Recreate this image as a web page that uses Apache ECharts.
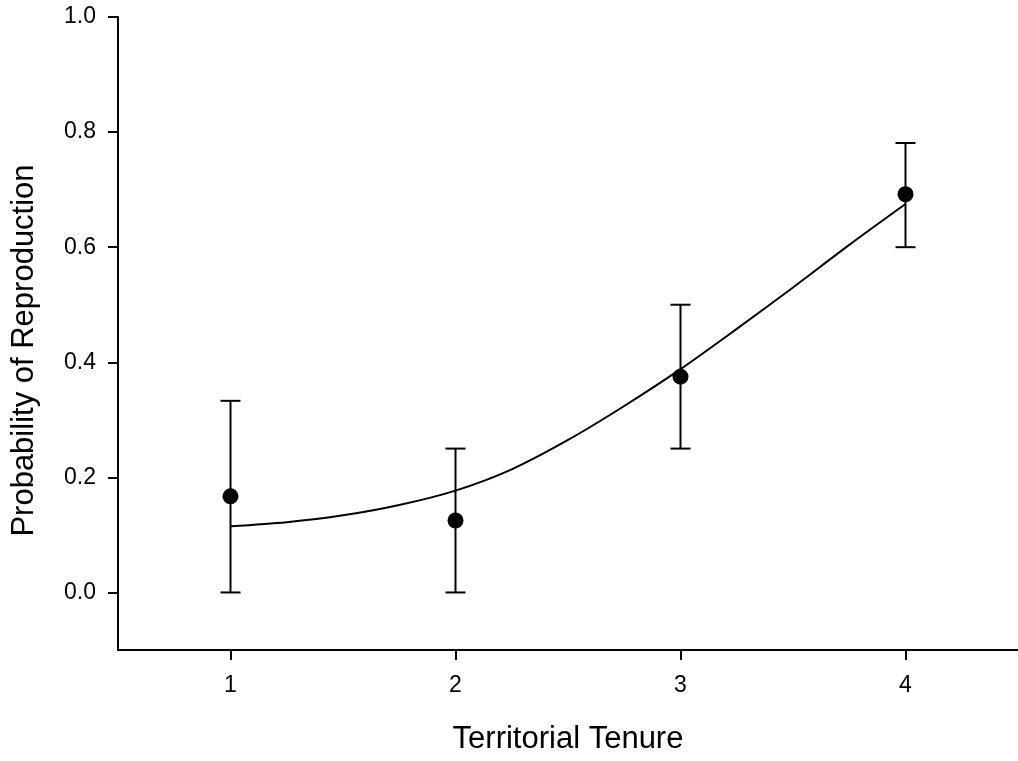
<!DOCTYPE html>
<html>
<head>
<meta charset="utf-8">
<title>Probability of Reproduction vs Territorial Tenure</title>
<script src="https://cdn.jsdelivr.net/npm/echarts@6/dist/echarts.min.js"></script>
<style>
  html, body { margin: 0; padding: 0; background: #fff; }
  #chart { width: 1018px; height: 761px; }
</style>
</head>
<body>
<div id="chart"></div>
<script>
// Observed means with error bar limits, one per tenure class
const tenure = [1, 2, 3, 4];
const meanProb = [0.167, 0.125, 0.375, 0.692];
const errLow = [0.0, 0.0, 0.25, 0.6];
const errHigh = [0.333, 0.25, 0.5, 0.781];

// Fitted curve, sampled along tenure
const fitX = [1, 1.25, 1.5, 1.75, 2, 2.25, 2.5, 2.75, 3, 3.25, 3.5, 3.75, 4];
const fitY = [0.115, 0.122, 0.134, 0.152, 0.177, 0.214, 0.265, 0.324, 0.388, 0.458, 0.530, 0.604, 0.675];

// Tick labels
const xTicks = [1, 2, 3, 4];
const yTicks = [0, 0.2, 0.4, 0.6, 0.8, 1.0];

const FONT = '"Liberation Sans", Arial, sans-serif';
const INK = '#000';

const chart = echarts.init(document.getElementById('chart'), null, { renderer: 'canvas' });

chart.setOption({
  backgroundColor: '#fff',
  animation: false,
  grid: { left: 118, top: 17, width: 903, height: 633, containLabel: false },
  xAxis: {
    type: 'value',
    min: 0.5,
    max: 4.5,
    name: 'Territorial Tenure',
    nameLocation: 'middle',
    nameGap: 74,
    nameTextStyle: { fontFamily: FONT, fontSize: 31, color: INK },
    axisLine: { show: true, onZero: false, lineStyle: { color: INK, width: 2 } },
    axisTick: { show: true, inside: false, length: 10, lineStyle: { color: INK, width: 2 }, customValues: xTicks },
    axisLabel: { show: true, margin: 24, fontFamily: FONT, fontSize: 23, color: INK, customValues: xTicks,
      formatter: v => String(v) },
    splitLine: { show: false }
  },
  yAxis: {
    type: 'value',
    min: -0.1,
    max: 1.0,
    name: 'Probability of Reproduction',
    nameLocation: 'middle',
    nameGap: 78,
    nameTextStyle: { fontFamily: FONT, fontSize: 31, color: INK, padding: [0, 34, 0, 0] },
    axisLine: { show: true, onZero: false, lineStyle: { color: INK, width: 2 } },
    axisTick: { show: true, inside: false, length: 10, lineStyle: { color: INK, width: 2 }, customValues: yTicks },
    axisLabel: { show: true, margin: 22, fontFamily: FONT, fontSize: 23, color: INK, customValues: yTicks,
      formatter: v => v.toFixed(1) },
    splitLine: { show: false }
  },
  series: [
    {
      name: 'fit',
      type: 'line',
      smooth: 0.3,
      showSymbol: false,
      symbol: 'none',
      lineStyle: { color: INK, width: 2 },
      data: fitX.map((x, i) => [x, fitY[i]]),
      z: 2
    },
    {
      name: 'error',
      type: 'custom',
      renderItem: function (params, api) {
        const x = api.value(0);
        const lo = api.coord([x, api.value(1)]);
        const hi = api.coord([x, api.value(2)]);
        const half = 10;
        const style = { stroke: INK, lineWidth: 2 };
        return {
          type: 'group',
          children: [
            { type: 'line', shape: { x1: lo[0], y1: lo[1], x2: hi[0], y2: hi[1] }, style },
            { type: 'line', shape: { x1: lo[0] - half, y1: lo[1], x2: lo[0] + half, y2: lo[1] }, style },
            { type: 'line', shape: { x1: hi[0] - half, y1: hi[1], x2: hi[0] + half, y2: hi[1] }, style }
          ]
        };
      },
      encode: { x: 0, y: [1, 2] },
      data: tenure.map((x, i) => [x, errLow[i], errHigh[i]]),
      z: 3
    },
    {
      name: 'mean',
      type: 'scatter',
      symbol: 'circle',
      symbolSize: 16,
      itemStyle: { color: INK, opacity: 1 },
      data: tenure.map((x, i) => [x, meanProb[i]]),
      z: 4
    }
  ]
});
</script>
</body>
</html>
